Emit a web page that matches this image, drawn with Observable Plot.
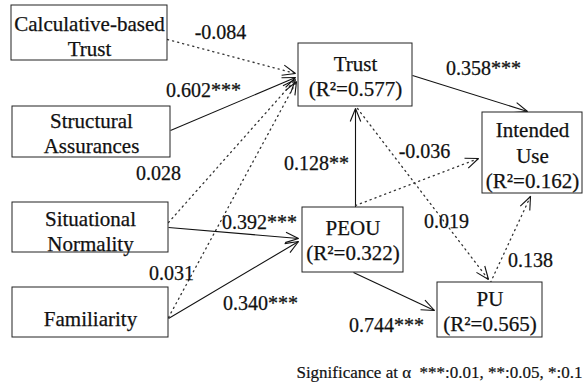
<!DOCTYPE html>
<html>
<head>
<meta charset="utf-8">
<script src="https://cdn.jsdelivr.net/npm/d3@7"></script>
<script src="https://cdn.jsdelivr.net/npm/@observablehq/plot@0.6"></script>
<style>
  html, body { margin: 0; padding: 0; background: #fff; }
  #chart svg { display: block; }
</style>
</head>
<body>
<div id="chart"></div>
<script>
// ---- data ----
const nodeNames = ["Calculative-based\nTrust", "Structural\nAssurances", "Situational\nNormality", "Familiarity",
                   "Trust", "Intended\nUse", "PEOU", "PU"];
const nodeR2 = [null, null, null, null, 0.577, 0.162, 0.322, 0.565];

const edgeFrom = [0, 1, 2, 3, 2, 3, 6, 6, 4, 4, 6, 7];
const edgeTo   = [4, 4, 4, 4, 6, 6, 4, 5, 7, 5, 7, 5];
const edgeCoef = [-0.084, 0.602, 0.028, 0.031, 0.392, 0.340, 0.128, -0.036, 0.019, 0.358, 0.744, 0.138];
const edgeSig  = ["", "***", "", "", "***", "***", "**", "", "", "***", "***", ""];

const footnote = "Significance at \u03b1  ***:0.01, **:0.05, *:0.1";

// ---- layout (diagram geometry, separate from data) ----
// box: [x1, x2, y1, y2, textCenterY]
const boxLayout = [
  [11, 167, 5, 60, 35],
  [12, 170, 106, 157, 132],
  [12, 168, 202, 252, 230],
  [12, 168, 287, 337, 317],
  [298, 412, 43, 106, 75],
  [482, 582, 112, 193, 154],
  [302, 403, 207, 272, 239],
  [437, 542, 282, 337, 310]
];
// edge: [x1, y1, x2, y2, labelX, labelY]
const edgeLayout = [
  [167, 39, 295, 73, 220, 32],
  [170, 130, 295, 77, 203, 90],
  [168, 222, 295, 79, 158, 173],
  [168, 317, 296, 81, 171, 273],
  [168, 227, 298, 238, 259, 222],
  [168, 318, 298, 241, 260, 303],
  [355, 207, 355, 108, 316, 163],
  [355, 205, 478, 158, 424, 151],
  [357, 108, 488, 279, 446, 221],
  [412, 75, 527, 111, 483, 68],
  [353, 272, 434, 310, 386, 325],
  [490, 282, 530, 196, 530, 260]
];

// ---- build tables ----
const fmt = v => (v < 0 ? "-" : "") + Math.abs(v).toFixed(3);
const nodes = nodeNames.map((name, i) => ({
  label: nodeR2[i] == null ? name : name + "\n(R\u00b2=" + nodeR2[i].toFixed(3) + ")",
  x1: boxLayout[i][0], x2: boxLayout[i][1], y1: boxLayout[i][2], y2: boxLayout[i][3],
  cx: (boxLayout[i][0] + boxLayout[i][1]) / 2, cy: boxLayout[i][4]
}));
const edges = edgeCoef.map((c, i) => ({
  from: nodeNames[edgeFrom[i]], to: nodeNames[edgeTo[i]],
  label: fmt(c) + edgeSig[i],
  significant: edgeSig[i] !== "",
  x1: edgeLayout[i][0], y1: edgeLayout[i][1], x2: edgeLayout[i][2], y2: edgeLayout[i][3],
  lx: edgeLayout[i][4], ly: edgeLayout[i][5]
}));
// arrow head wings
const wingLen = 14, wingAng = 22 * Math.PI / 180;
const wings = edges.flatMap(e => {
  const a = Math.atan2(e.y2 - e.y1, e.x2 - e.x1);
  return [-1, 1].map(s => ({
    x1: e.x2, y1: e.y2,
    x2: e.x2 - wingLen * Math.cos(a + s * wingAng),
    y2: e.y2 - wingLen * Math.sin(a + s * wingAng)
  }));
});

const font = "'Liberation Serif', 'Times New Roman', serif";

const chart = Plot.plot({
  width: 583,
  height: 391,
  margin: 0,
  x: {domain: [0, 583], range: [0, 583], axis: null},
  y: {domain: [0, 391], range: [0, 391], axis: null},
  style: {fontFamily: font, background: "#fff"},
  marks: [
    Plot.link(edges.filter(d => d.significant), {x1: "x1", y1: "y1", x2: "x2", y2: "y2", stroke: "#111", strokeWidth: 1.1}),
    Plot.link(edges.filter(d => !d.significant), {x1: "x1", y1: "y1", x2: "x2", y2: "y2", stroke: "#333", strokeWidth: 1.3, strokeDasharray: "1.2,4", strokeLinecap: "round"}),
    Plot.link(wings, {x1: "x1", y1: "y1", x2: "x2", y2: "y2", stroke: "#111", strokeWidth: 1.1}),
    Plot.rect(nodes, {x1: "x1", x2: "x2", y1: "y1", y2: "y2", fill: "white", stroke: "#222", strokeWidth: 1}),
    Plot.text(nodes, {x: "cx", y: "cy", text: "label", fontSize: 21, lineHeight: 1.2, fill: "#111", stroke: "#111", strokeWidth: 0.25, fontFamily: font}),
    Plot.text(edges, {x: "lx", y: "ly", text: "label", fontSize: 20, fill: "#111", stroke: "#111", strokeWidth: 0.25, fontFamily: font}),
    Plot.text([footnote], {x: () => 582, y: () => 372, text: d => d, textAnchor: "end", fontSize: 17, fill: "#111", stroke: "#111", strokeWidth: 0.2, fontFamily: font})
  ]
});
document.getElementById("chart").appendChild(chart);
</script>
</body>
</html>
